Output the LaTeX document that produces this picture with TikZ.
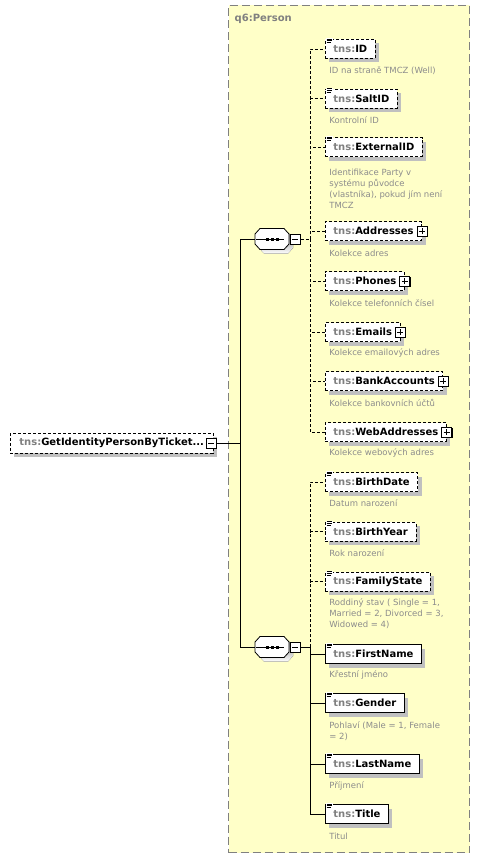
\documentclass[tikz,border=0pt]{standalone}
\usepackage{fontspec}
\setmainfont{DejaVu Sans}
\usetikzlibrary{shadows}

\definecolor{typefill}{RGB}{255,255,200}
\definecolor{typeline}{RGB}{128,128,128}
\definecolor{shade}{RGB}{192,192,192}
\definecolor{pfxgray}{RGB}{128,128,128}
\definecolor{descgray}{RGB}{140,140,140}

\newcommand{\tns}{\textcolor{pfxgray}{tns:}}
\newcommand{\docmark}[1]{%
  \fill[white,shift={(#1.north west)}] (0.5,-1) rectangle (8,4.5);
  \draw[line width=0.7pt,shift={(#1.north west)}] (1.5,0)--(7,0) (1.5,1.7)--(7,1.7) (1.5,3.4)--(5.5,3.4);}
\newcommand{\plusmark}[1]{\draw[line width=0.8pt] ([xshift=-3pt]#1.center) -- ([xshift=3pt]#1.center) ([yshift=-3pt]#1.center) -- ([yshift=3pt]#1.center);}
\newcommand{\minusmark}[1]{\draw[line width=0.8pt] ([xshift=-3pt]#1.center) -- ([xshift=3pt]#1.center);}
\newcommand{\seqmark}[1]{%
  \fill[shade,shift={(#1.center)},xshift=4pt,yshift=-4pt] (-17,-5)--(-12,-10.5)--(12,-10.5)--(17,-5)--(17,5)--(12,10.5)--(-12,10.5)--(-17,5)--cycle;
  \filldraw[fill=white,shift={(#1.center)}] (-17,-5)--(-12,-10.5)--(12,-10.5)--(17,-5)--(17,5)--(12,10.5)--(-12,10.5)--(-17,5)--cycle;
  \draw ([xshift=1.5pt]#1.west) -- ([xshift=-5pt]#1.east);
  \fill ([xshift=-5pt]#1.center) +(-1.5,-1.5) rectangle +(1.5,1.5);
  \fill (#1.center) +(-1.5,-1.5) rectangle +(1.5,1.5);
  \fill ([xshift=5pt]#1.center) +(-1.5,-1.5) rectangle +(1.5,1.5);}

\begin{document}
\begin{tikzpicture}[x=1pt,y=-1pt,line width=0.8pt,
    elem/.style={draw, fill=white, line width=0.8pt, minimum height=19pt, inner xsep=8pt, inner ysep=0pt,
      anchor=west, font=\bfseries\fontsize{10}{12}\selectfont,
      general shadow={fill=shade, shadow xshift=4pt, shadow yshift=-4pt}},
    optelem/.style={elem, dash pattern=on 3pt off 2pt},
    optline/.style={dash pattern=on 3pt off 2pt},
    desc/.style={anchor=west, inner sep=0pt, align=left, text=descgray, font=\fontsize{8.5}{11}\selectfont},
    pmbox/.style={draw, fill=white, line width=0.9pt, minimum size=10pt, inner sep=0pt,
      general shadow={fill=black, shadow xshift=1pt, shadow yshift=-1pt}},
    seqbox/.style={minimum width=34pt, minimum height=21pt, inner sep=0pt}]
  \fill[white] (0,0) rectangle (480,859);
  \useasboundingbox (0,0) rectangle (480,859);

  \node[draw=typeline, fill=typefill, line width=1pt, dash pattern=on 8pt off 4pt, minimum width=241pt,
    minimum height=847pt, anchor=north west, inner sep=0pt] (person) at (228,5) {};
  \node[anchor=west, text=typeline, font=\bfseries\fontsize{10}{12}\selectfont] (personlbl) at (231,19) {q6:Person};

  \node[optelem, minimum height=20pt, inner xsep=9pt] (root) at (10,443) {\tns GetIdentityPersonByTicket...\hspace{12pt}};
  \node[pmbox] (rootm) at ([xshift=-2pt]root.east) {};
  \minusmark{rootm}
  \coordinate (trunk) at (240,443);

  \node[seqbox] (seq1) at (272,239) {};
  \seqmark{seq1}
  \node[pmbox, anchor=west] (seq1m) at ([xshift=0.5pt]seq1.east) {};
  \minusmark{seq1m}
  \coordinate (j1) at (310,239);

  \node[seqbox] (seq2) at (272,647) {};
  \seqmark{seq2}
  \node[pmbox, anchor=west] (seq2m) at ([xshift=0.5pt]seq2.east) {};
  \minusmark{seq2m}
  \coordinate (j2) at (310,647);

  \draw (rootm.east) -- (trunk);
  \draw (trunk) |- (seq1.west);
  \draw (trunk) |- (seq2.west);
  \draw[optline] (seq1m.east) -- (j1);
  \draw (seq2m.east) -- (j2);

  \node[optelem] (id) at (325,49) {\tns ID};
  \node[optelem] (saltid) at (325,98.5) {\tns SaltID};
  \node[optelem] (extid) at (325,147) {\tns ExternalID};
  \node[optelem] (addr) at (325,231) {\tns Addresses\hspace{9pt}};
  \node[optelem] (phones) at (325,281) {\tns Phones\hspace{9pt}};
  \node[optelem] (emails) at (325,332) {\tns Emails\hspace{9pt}};
  \node[optelem] (bank) at (325,381) {\tns BankAccounts\hspace{9pt}};
  \node[optelem] (web) at (325,432) {\tns WebAddresses\hspace{9pt}};
  \node[optelem] (bdate) at (325,482) {\tns BirthDate};
  \node[optelem] (byear) at (325,531.5) {\tns BirthYear};
  \node[optelem] (fstate) at (325,581.5) {\tns FamilyState};
  \node[elem] (fname) at (325,654) {\tns FirstName};
  \node[elem] (gender) at (325,703) {\tns Gender};
  \node[elem] (lname) at (325,764) {\tns LastName};
  \node[elem] (title) at (325,814) {\tns Title};

  \docmark{id} \docmark{saltid} \docmark{extid}
  \docmark{bdate} \docmark{byear} \docmark{fstate}
  \docmark{fname} \docmark{gender} \docmark{lname} \docmark{title}

  \node[pmbox] (addrx) at (addr.east) {};
  \plusmark{addrx}
  \node[pmbox] (phonesx) at (phones.east) {};
  \plusmark{phonesx}
  \node[pmbox] (emailsx) at (emails.east) {};
  \plusmark{emailsx}
  \node[pmbox] (bankx) at (bank.east) {};
  \plusmark{bankx}
  \node[pmbox] (webx) at (web.east) {};
  \plusmark{webx}

  \draw[optline] (j1) |- (id.west);
  \draw[optline] (j1) |- (saltid.west);
  \draw[optline] (j1) |- (extid.west);
  \draw[optline] (j1) |- (addr.west);
  \draw[optline] (j1) |- (phones.west);
  \draw[optline] (j1) |- (emails.west);
  \draw[optline] (j1) |- (bank.west);
  \draw[optline] (j1) |- (web.west);
  \draw[optline] (j2) |- (bdate.west);
  \draw[optline] (j2) |- (byear.west);
  \draw[optline] (j2) |- (fstate.west);
  \draw (j2) |- (fname.west);
  \draw (j2) |- (gender.west);
  \draw (j2) |- (lname.west);
  \draw (j2) |- (title.west);

  \node[desc] (iddesc) at (329,71) {ID na straně TMCZ (Well)};
  \node[desc] (saltiddesc) at (329,120) {Kontrolní ID};
  \node[desc] (extiddesc) at (329,188.5) {Identifikace Party v\\systému původce\\(vlastníka), pokud jím není\\TMCZ};
  \node[desc] (addrdesc) at (329,253) {Kolekce adres};
  \node[desc] (phonesdesc) at (329,303) {Kolekce telefonních čísel};
  \node[desc] (emailsdesc) at (329,353) {Kolekce emailových adres};
  \node[desc] (bankdesc) at (329,403) {Kolekce bankovních účtů};
  \node[desc] (webdesc) at (329,453) {Kolekce webových adres};
  \node[desc] (bdatedesc) at (329,503) {Datum narození};
  \node[desc] (byeardesc) at (329,553) {Rok narození};
  \node[desc] (fstatedesc) at (329,614) {Roddiný stav ( Single = 1,\\Married = 2, Divorced = 3,\\Widowed = 4)};
  \node[desc] (fnamedesc) at (329,675) {Křestní jméno};
  \node[desc] (genderdesc) at (329,731.5) {Pohlaví (Male = 1, Female\\= 2)};
  \node[desc] (lnamedesc) at (329,786) {Příjmení};
  \node[desc] (titledesc) at (329,836) {Titul};
\end{tikzpicture}
\end{document}
